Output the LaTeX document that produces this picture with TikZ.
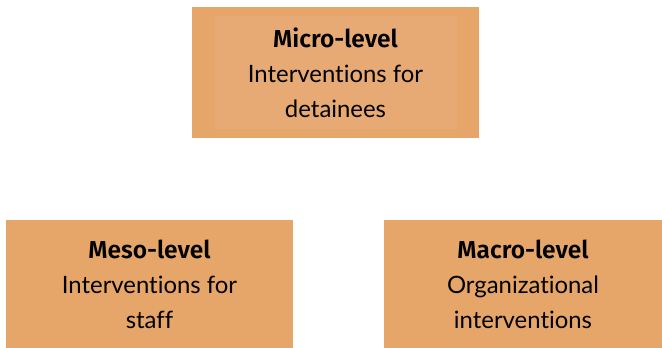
\documentclass[tikz,border=0pt]{standalone}
\usepackage{fontspec}
\setmainfont{Lato}[RawFeature=-liga]
\newfontfamily\headfont{Fira Sans}[BoldFont={* SemiBold}]
\usetikzlibrary{positioning}

\definecolor{boxorange}{HTML}{E6A66A}
\definecolor{boxinner}{HTML}{E7AA74}

\newcommand{\levelhead}[1]{{\headfont\bfseries\fontsize{24.5}{35}\selectfont #1}}

\begin{document}
\begin{tikzpicture}[x=1pt, y=-1pt,
  every node/.style={font=\fontsize{23.9}{35}\selectfont},
  levelbox/.style={fill=boxorange, align=center, inner sep=0pt}]

\useasboundingbox (0,0) rectangle (662,348);

%% ── Top box (lighter panel inside) ─────────────────────────────────────────
\node[levelbox, minimum width=287pt, minimum height=131pt,
      path picture={\fill[boxinner]
        ([shift={(23,9)}]path picture bounding box.north west) rectangle
        ([shift={(-22,-9)}]path picture bounding box.south east);}]
  (micro) at (335.5, 72.5)
  {\levelhead{Micro-level}\\Interventions for\\detainees};

%% ── Bottom row ──────────────────────────────────────────────────────────────
\node[levelbox, minimum width=287pt, minimum height=128pt]
  (meso) at (149.5, 284)
  {\levelhead{Meso-level}\\Interventions for\\staff};

\node[levelbox, minimum width=278pt, minimum height=128pt]
  (macro) at (523, 284)
  {\levelhead{Macro-level}\\Organizational\\interventions};

\end{tikzpicture}
\end{document}
